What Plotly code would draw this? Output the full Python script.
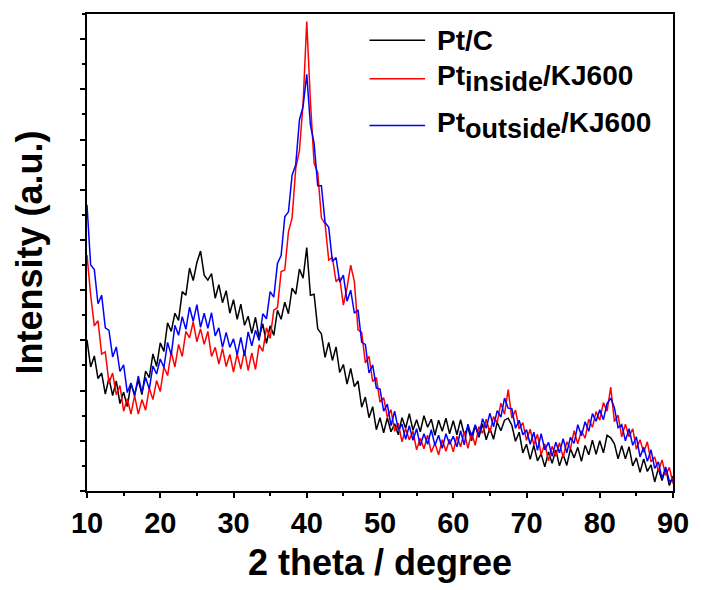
import numpy as np
import plotly.graph_objects as go

# 2 theta grid (degrees), 0.5 degree steps from 10 to 90
two_theta = np.arange(10, 90.01, 0.5)

# Intensities (a.u.), 0.5 degree steps
pt_c = [
    3.01, 2.47, 2.69, 2.24, 2.35, 1.93, 2.25, 1.90, 2.19, 1.74,
    1.97, 1.68, 2.14, 1.92, 2.21, 1.92, 2.39, 2.26, 2.73, 2.48,
    2.95, 2.78, 3.35, 3.18, 3.54, 3.40, 3.97, 3.90, 4.44, 4.19,
    4.55, 4.78, 4.30, 4.20, 4.33, 3.84, 4.11, 3.75, 3.99, 3.54,
    3.81, 3.42, 3.72, 3.30, 3.48, 3.14, 3.46, 3.05, 3.33, 2.94,
    3.29, 3.10, 3.60, 3.42, 3.76, 3.53, 4.04, 3.92, 4.42, 4.24,
    4.85, 3.90, 3.92, 3.23, 3.13, 2.66, 2.96, 2.60, 2.87, 2.36,
    2.52, 2.13, 2.44, 2.08, 2.19, 1.67, 1.87, 1.46, 1.68, 1.22,
    1.46, 1.16, 1.46, 1.18, 1.34, 1.12, 1.46, 1.25, 1.54, 1.21,
    1.42, 1.18, 1.50, 1.27, 1.43, 1.11, 1.41, 1.19, 1.45, 1.14,
    1.40, 1.12, 1.42, 1.12, 1.27, 1.00, 1.30, 1.07, 1.34, 1.02,
    1.25, 1.03, 1.37, 1.20, 1.41, 1.45, 1.31, 0.99, 1.17, 0.76,
    0.93, 0.63, 0.91, 0.60, 0.74, 0.48, 0.78, 0.55, 0.82, 0.50,
    0.73, 0.51, 0.84, 0.66, 0.87, 0.59, 0.91, 0.72, 1.01, 0.73,
    1.00, 0.76, 1.11, 1.06, 0.94, 0.64, 0.90, 0.64, 0.88, 0.50,
    0.66, 0.37, 0.64, 0.39, 0.52, 0.18, 0.45, 0.21, 0.45, 0.11,
    0.30,
]

pt_inside = [
    4.70, 3.90, 3.29, 3.39, 2.73, 2.77, 2.15, 2.35, 1.92, 2.10,
    1.59, 1.84, 1.53, 1.90, 1.53, 1.82, 1.61, 2.05, 1.82, 2.20,
    1.98, 2.47, 2.30, 2.77, 2.47, 2.92, 2.68, 3.18, 3.05, 3.37,
    2.97, 3.23, 2.92, 3.18, 2.68, 2.86, 2.53, 2.84, 2.48, 2.72,
    2.37, 2.73, 2.43, 2.80, 2.40, 2.75, 2.42, 2.91, 2.78, 3.25,
    3.04, 3.60, 3.65, 4.37, 4.40, 5.16, 5.44, 6.43, 6.78, 7.72,
    9.35, 7.76, 6.53, 6.34, 5.44, 5.32, 4.60, 4.65, 4.17, 4.25,
    3.70, 4.05, 4.50, 4.17, 3.21, 3.16, 2.55, 2.68, 2.18, 2.26,
    1.77, 1.86, 1.47, 1.62, 1.19, 1.35, 0.98, 1.24, 1.02, 1.19,
    0.82, 1.05, 0.84, 1.11, 0.77, 0.95, 0.72, 1.02, 0.79, 1.03,
    0.78, 1.09, 0.88, 1.18, 0.85, 1.16, 0.91, 1.28, 1.15, 1.43,
    1.16, 1.48, 1.36, 1.75, 1.53, 2.02, 1.45, 1.61, 1.24, 1.36,
    1.01, 1.23, 0.92, 1.13, 0.72, 0.94, 0.60, 0.89, 0.69, 0.96,
    0.67, 0.98, 0.84, 1.20, 0.94, 1.20, 1.05, 1.43, 1.27, 1.58,
    1.41, 1.76, 1.59, 2.07, 1.38, 1.51, 1.08, 1.33, 1.08, 1.24,
    0.83, 1.02, 0.77, 0.98, 0.58, 0.68, 0.39, 0.62, 0.31, 0.47,
    0.15,
]

pt_outside = [
    5.70, 4.50, 4.41, 3.73, 3.90, 3.25, 3.20, 2.67, 2.87, 2.38,
    2.51, 1.96, 2.15, 1.89, 2.29, 1.96, 2.26, 2.03, 2.49, 2.33,
    2.63, 2.46, 2.96, 2.71, 3.30, 3.10, 3.47, 3.22, 3.66, 3.38,
    3.71, 3.26, 3.54, 3.24, 3.55, 3.09, 3.25, 2.86, 3.16, 2.86,
    3.03, 2.71, 3.06, 2.69, 3.17, 2.89, 3.20, 3.00, 3.53, 3.43,
    3.97, 3.86, 4.53, 4.69, 5.46, 5.56, 6.29, 6.50, 7.39, 7.66,
    8.30, 7.29, 6.93, 6.08, 6.08, 5.35, 5.25, 4.57, 4.65, 4.16,
    4.30, 3.78, 4.00, 3.54, 3.61, 2.96, 2.92, 2.35, 2.51, 2.05,
    2.03, 1.59, 1.73, 1.30, 1.59, 1.22, 1.33, 1.03, 1.30, 1.01,
    1.24, 0.90, 1.14, 0.93, 1.22, 0.91, 1.11, 0.85, 1.14, 0.93,
    1.09, 0.88, 1.20, 0.92, 1.33, 1.09, 1.32, 1.10, 1.44, 1.25,
    1.55, 1.28, 1.60, 1.47, 1.85, 1.65, 1.64, 1.25, 1.41, 1.12,
    1.22, 0.93, 1.17, 0.81, 1.14, 0.82, 0.97, 0.69, 0.97, 0.76,
    1.04, 0.76, 1.07, 0.95, 1.32, 1.10, 1.38, 1.19, 1.54, 1.39,
    1.62, 1.42, 1.74, 1.85, 1.66, 1.26, 1.32, 1.00, 1.24, 0.91,
    1.08, 0.68, 0.87, 0.59, 0.82, 0.45, 0.58, 0.25, 0.48, 0.20,
    0.22,
]

series_names = ["Pt/C", "Pt<sub>inside</sub>/KJ600", "Pt<sub>outside</sub>/KJ600"]
series_colors = ["#000000", "#ff0000", "#0000ff"]
series_values = [pt_c, pt_inside, pt_outside]

x_ticks = [10, 20, 30, 40, 50, 60, 70, 80, 90]

FONT = "Liberation Sans, Arial, sans-serif"
LEG_SIZE = 28


def legend_text(name):
    # subscripts in the reference are nearly full size, only shifted down
    return name.replace("<sub>", "<sub><span style='font-size:%dpx'>" % (LEG_SIZE - 1)).replace(
        "</sub>", "</span></sub>")


fig = go.Figure()
for name, color, vals in zip(series_names, series_colors, series_values):
    fig.add_trace(go.Scatter(x=two_theta, y=vals, mode="lines", name=name,
                             line=dict(color=color, width=1.5), showlegend=False))

# manual legend (line samples + labels)
leg_y = [0.945, 0.864, 0.766]
for name, color, yy in zip(series_names, series_colors, leg_y):
    fig.add_shape(type="line", xref="paper", yref="paper",
                  x0=0.482, x1=0.577, y0=yy, y1=yy,
                  line=dict(color=color, width=1.5))
    fig.add_annotation(xref="paper", yref="paper", x=0.594, y=yy,
                       xanchor="left", yanchor="middle", showarrow=False,
                       text=legend_text(name),
                       font=dict(family=FONT, size=LEG_SIZE, color="black", weight="bold"))

fig.update_layout(
    width=701, height=590,
    margin=dict(l=87, r=21, t=12, b=99),
    paper_bgcolor="white", plot_bgcolor="white",
    font=dict(family=FONT, color="black", weight="bold"),
    xaxis=dict(
        range=[10, 90], tickmode="array", tickvals=x_ticks,
        ticks="outside", ticklen=5, tickwidth=2, tickcolor="black",
        minor=dict(dtick=5, tick0=10, ticks="outside", ticklen=3, tickwidth=2, tickcolor="black"),
        showline=True, linewidth=2, linecolor="black", mirror=True,
        showgrid=False, zeroline=False,
        tickfont=dict(family=FONT, size=29, color="black", weight="bold"),
        title=dict(text="2 theta / degree", standoff=12,
                   font=dict(family=FONT, size=36, color="black", weight="bold")),
    ),
    yaxis=dict(
        range=[0, 9.5], dtick=1, tick0=0, showticklabels=False,
        ticks="outside", ticklen=5, tickwidth=2, tickcolor="black",
        minor=dict(dtick=0.5, ticks="outside", ticklen=3, tickwidth=2, tickcolor="black"),
        showline=True, linewidth=2, linecolor="black", mirror=True,
        showgrid=False, zeroline=False,
        title=dict(text="Intensity (a.u.)", standoff=26,
                   font=dict(family=FONT, size=36, color="black", weight="bold")),
    ),
)

fig.write_html("out.html")
